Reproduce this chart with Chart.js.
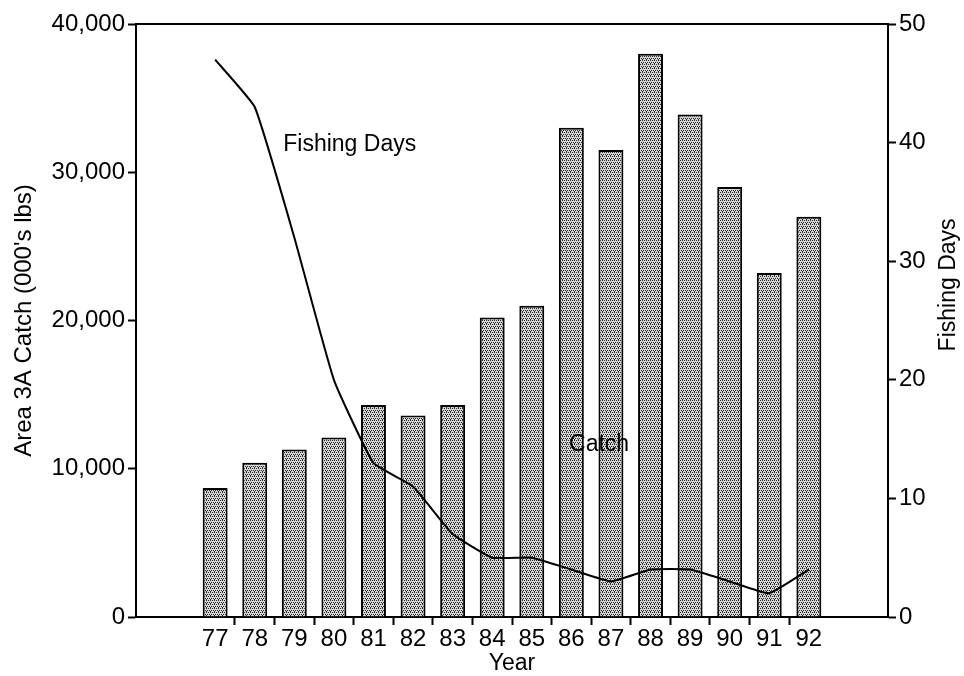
<!DOCTYPE html>
<html>
<head>
<meta charset="utf-8">
<script src="https://cdn.jsdelivr.net/npm/chart.js@4.4.1/dist/chart.umd.min.js"></script>
<style>
  html, body { margin: 0; padding: 0; background: #fff; }
  #chart { display: block; }
</style>
</head>
<body>
<canvas id="chart" width="964" height="676"></canvas>
<script>
// values
const years = ['77', '78', '79', '80', '81', '82', '83', '84', '85', '86', '87', '88', '89', '90', '91', '92'];
const catchLbs = [8700, 10400, 11300, 12100, 14300, 13600, 14300, 20200, 21000, 33000, 31500, 38000, 33900, 29000, 23200, 27000];
const fishingDays = [47, 43, 32, 20, 13, 11, 7, 5, 5, 4, 3, 4, 4, 3, 2, 4];
const catchTicks = [0, 10000, 20000, 30000, 40000];
const dayTicks = [0, 10, 20, 30, 40, 50];

// the x axis leaves two empty slots on each side of the years
const padSlots = 2;
const blanks = Array(padSlots).fill('');
const nulls = Array(padSlots).fill(null);
const xLabels = [...blanks, ...years, ...blanks];
const catchData = [...nulls, ...catchLbs, ...nulls];
const daysData = [...nulls, ...fishingDays, ...nulls];

const FONT = 'Liberation Sans, Arial, Helvetica, sans-serif';

// stippled grey fill for the bars
function stipple() {
  const c = document.createElement('canvas');
  c.width = 4; c.height = 4;
  const g = c.getContext('2d');
  g.fillStyle = '#d4d4d4';
  g.fillRect(0, 0, 4, 4);
  g.fillStyle = '#2a2a2a';
  [[0, 0], [2, 0], [1, 2], [3, 2], [2, 3]].forEach(p => g.fillRect(p[0], p[1], 1, 1));
  return g.createPattern(c, 'repeat');
}

// text labels inside the plot, placed in axis units (x = slot index, y = fishing days)
const notes = [
  { text: 'Fishing Days', slot: 5.4, days: 39.8 },
  { text: 'Catch', slot: 11.7, days: 14.5 }
];

const extras = {
  id: 'extras',
  afterDatasetsDraw(chart) {
    const { ctx, chartArea: a, scales } = chart;
    ctx.save();
    // top edge of the frame
    ctx.strokeStyle = '#000';
    ctx.lineWidth = 2;
    ctx.beginPath();
    ctx.moveTo(a.left - 1, a.top);
    ctx.lineTo(a.right + 1, a.top);
    ctx.stroke();

    ctx.fillStyle = '#000';
    ctx.font = '23px ' + FONT;
    ctx.textAlign = 'center';
    ctx.textBaseline = 'middle';
    notes.forEach(n => {
      ctx.fillText(n.text, scales.x.getPixelForValue(n.slot), scales.y1.getPixelForValue(n.days));
    });

    // right axis title, read bottom to top like the left one
    ctx.font = '23px ' + FONT;
    ctx.translate(scales.y1.left + 61, scales.y1.getPixelForValue(28));
    ctx.rotate(-Math.PI / 2);
    ctx.fillText('Fishing Days', 0, 0);
    ctx.restore();
  }
};

const tickMark = { drawOnChartArea: false, drawTicks: true, tickLength: 8, tickWidth: 2, tickColor: '#000' };

new Chart(document.getElementById('chart'), {
  type: 'bar',
  data: {
    labels: xLabels,
    datasets: [
      {
        type: 'line',
        label: 'Fishing Days',
        data: daysData,
        yAxisID: 'y1',
        borderColor: '#000',
        borderWidth: 2,
        pointRadius: 0,
        tension: 0.12,
        fill: false,
        order: 0
      },
      {
        label: 'Catch',
        data: catchData,
        yAxisID: 'y',
        backgroundColor: stipple(),
        borderColor: '#000',
        borderWidth: 2,
        borderSkipped: 'bottom',
        categoryPercentage: 1,
        barPercentage: 0.63,
        order: 1
      }
    ]
  },
  options: {
    responsive: false,
    animation: false,
    devicePixelRatio: 1,
    layout: { padding: { top: 24, left: 0, right: 0, bottom: 0 } },
    plugins: { legend: { display: false }, tooltip: { enabled: false } },
    scales: {
      x: {
        offset: false,
        border: { color: '#000', width: 2 },
        grid: {
          offset: true,
          drawOnChartArea: false,
          drawTicks: true,
          tickLength: 8,
          tickWidth: 2,
          tickColor: ctx => (ctx.index > padSlots && ctx.index < padSlots + years.length) ? '#000' : 'rgba(0,0,0,0)'
        },
        ticks: { autoSkip: false, maxRotation: 0, minRotation: 0, padding: 0, color: '#000', font: { family: FONT, size: 24 } },
        title: { display: true, text: 'Year', color: '#000', font: { family: FONT, size: 23, lineHeight: 1.1 }, padding: { top: 0, bottom: 0 } },
        afterFit: s => { s.height = 59; }
      },
      y: {
        position: 'left',
        min: 0,
        max: 40000,
        afterBuildTicks: s => { s.ticks = catchTicks.map(v => ({ value: v })); },
        border: { color: '#000', width: 2 },
        grid: tickMark,
        ticks: { padding: 3, color: '#000', font: { family: FONT, size: 24 }, callback: v => v.toLocaleString('en-US') },
        title: { display: true, text: "Area 3A Catch (000's lbs)", color: '#000', font: { family: FONT, size: 24 }, padding: { top: 10, bottom: 0 } },
        afterFit: s => { s.width = 136; }
      },
      y1: {
        position: 'right',
        min: 0,
        max: 50,
        afterBuildTicks: s => { s.ticks = dayTicks.map(v => ({ value: v })); },
        border: { color: '#000', width: 2 },
        grid: tickMark,
        ticks: { padding: 3, color: '#000', font: { family: FONT, size: 24 } },
        afterFit: s => { s.width = 76; }
      }
    }
  },
  plugins: [extras]
});
</script>
</body>
</html>
